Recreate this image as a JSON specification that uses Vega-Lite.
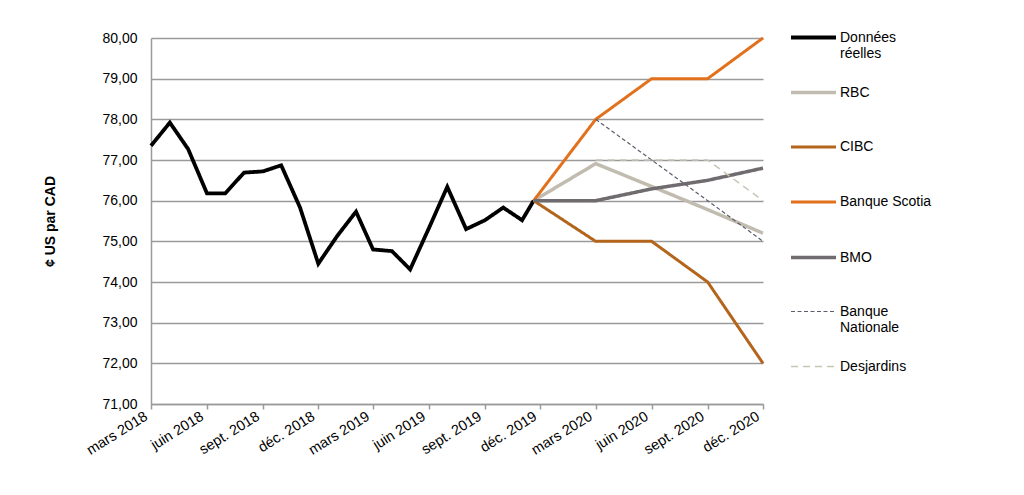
{
  "$schema": "https://vega.github.io/schema/vega-lite/v6.json",
  "width": 612,
  "height": 366,
  "autosize": {"type": "none"},
  "padding": {"left": 151, "top": 38, "right": 261, "bottom": 91},
  "background": "white",
  "config": {
    "font": "Liberation Sans",
    "view": {"stroke": null},
    "locale": {
      "number": {"decimal": ",", "thousands": " ", "grouping": [3], "currency": ["", " $"]},
      "time": {
        "dateTime": "%A %e %B %Y à %X",
        "date": "%d/%m/%Y",
        "time": "%H:%M:%S",
        "periods": ["AM", "PM"],
        "days": ["dimanche", "lundi", "mardi", "mercredi", "jeudi", "vendredi", "samedi"],
        "shortDays": ["dim.", "lun.", "mar.", "mer.", "jeu.", "ven.", "sam."],
        "months": ["janvier", "février", "mars", "avril", "mai", "juin", "juillet", "août", "septembre", "octobre", "novembre", "décembre"],
        "shortMonths": ["janv.", "févr.", "mars", "avr.", "mai", "juin", "juil.", "août", "sept.", "oct.", "nov.", "déc."]
      }
    }
  },
  "data": {
    "values": [
      {"date": "2018-03-01", "series": "Données réelles", "value": 77.35},
      {"date": "2018-04-01", "series": "Données réelles", "value": 77.92},
      {"date": "2018-05-01", "series": "Données réelles", "value": 77.27},
      {"date": "2018-06-01", "series": "Données réelles", "value": 76.18},
      {"date": "2018-07-01", "series": "Données réelles", "value": 76.18},
      {"date": "2018-08-01", "series": "Données réelles", "value": 76.69},
      {"date": "2018-09-01", "series": "Données réelles", "value": 76.72},
      {"date": "2018-10-01", "series": "Données réelles", "value": 76.87},
      {"date": "2018-11-01", "series": "Données réelles", "value": 75.83},
      {"date": "2018-12-01", "series": "Données réelles", "value": 74.45},
      {"date": "2019-01-01", "series": "Données réelles", "value": 75.13},
      {"date": "2019-02-01", "series": "Données réelles", "value": 75.73},
      {"date": "2019-03-01", "series": "Données réelles", "value": 74.8},
      {"date": "2019-04-01", "series": "Données réelles", "value": 74.76},
      {"date": "2019-05-01", "series": "Données réelles", "value": 74.31},
      {"date": "2019-06-01", "series": "Données réelles", "value": 75.33},
      {"date": "2019-07-01", "series": "Données réelles", "value": 76.34},
      {"date": "2019-08-01", "series": "Données réelles", "value": 75.3},
      {"date": "2019-09-01", "series": "Données réelles", "value": 75.52},
      {"date": "2019-10-01", "series": "Données réelles", "value": 75.83},
      {"date": "2019-11-01", "series": "Données réelles", "value": 75.52},
      {"date": "2019-11-20", "series": "Données réelles", "value": 76.0},
      {"date": "2019-11-20", "series": "RBC", "value": 76.0},
      {"date": "2020-03-01", "series": "RBC", "value": 76.91},
      {"date": "2020-06-01", "series": "RBC", "value": 76.35},
      {"date": "2020-09-01", "series": "RBC", "value": 75.78},
      {"date": "2020-12-01", "series": "RBC", "value": 75.2},
      {"date": "2019-11-20", "series": "CIBC", "value": 76.0},
      {"date": "2020-03-01", "series": "CIBC", "value": 75.0},
      {"date": "2020-06-01", "series": "CIBC", "value": 75.0},
      {"date": "2020-09-01", "series": "CIBC", "value": 74.0},
      {"date": "2020-12-01", "series": "CIBC", "value": 72.0},
      {"date": "2019-11-20", "series": "Banque Scotia", "value": 76.0},
      {"date": "2020-03-01", "series": "Banque Scotia", "value": 78.0},
      {"date": "2020-06-01", "series": "Banque Scotia", "value": 79.0},
      {"date": "2020-09-01", "series": "Banque Scotia", "value": 79.0},
      {"date": "2020-12-01", "series": "Banque Scotia", "value": 80.0},
      {"date": "2019-11-20", "series": "BMO", "value": 76.0},
      {"date": "2020-03-01", "series": "BMO", "value": 76.0},
      {"date": "2020-06-01", "series": "BMO", "value": 76.29},
      {"date": "2020-09-01", "series": "BMO", "value": 76.5},
      {"date": "2020-12-01", "series": "BMO", "value": 76.8},
      {"date": "2020-03-01", "series": "Banque Nationale", "value": 78.0},
      {"date": "2020-06-01", "series": "Banque Nationale", "value": 77.0},
      {"date": "2020-09-01", "series": "Banque Nationale", "value": 76.0},
      {"date": "2020-12-01", "series": "Banque Nationale", "value": 75.0},
      {"date": "2020-03-01", "series": "Desjardins", "value": 77.0},
      {"date": "2020-06-01", "series": "Desjardins", "value": 77.0},
      {"date": "2020-09-01", "series": "Desjardins", "value": 77.0},
      {"date": "2020-12-01", "series": "Desjardins", "value": 76.0}
    ]
  },
  "mark": {"type": "line", "strokeCap": "butt", "strokeJoin": "miter"},
  "encoding": {
    "x": {
      "field": "date",
      "type": "temporal",
      "scale": {
        "type": "utc",
        "domain": [
          {"year": 2018, "month": 3, "date": 1, "utc": true},
          {"year": 2020, "month": 12, "date": 1, "utc": true}
        ]
      },
      "axis": {
        "values": [
          {"year": 2018, "month": 3, "date": 1, "utc": true},
          {"year": 2018, "month": 6, "date": 1, "utc": true},
          {"year": 2018, "month": 9, "date": 1, "utc": true},
          {"year": 2018, "month": 12, "date": 1, "utc": true},
          {"year": 2019, "month": 3, "date": 1, "utc": true},
          {"year": 2019, "month": 6, "date": 1, "utc": true},
          {"year": 2019, "month": 9, "date": 1, "utc": true},
          {"year": 2019, "month": 12, "date": 1, "utc": true},
          {"year": 2020, "month": 3, "date": 1, "utc": true},
          {"year": 2020, "month": 6, "date": 1, "utc": true},
          {"year": 2020, "month": 9, "date": 1, "utc": true},
          {"year": 2020, "month": 12, "date": 1, "utc": true}
        ],
        "format": "%b %Y",
        "title": null,
        "grid": false,
        "labelAngle": -32,
        "labelAlign": "right",
        "labelBaseline": "middle",
        "labelPadding": 6,
        "labelOffset": -5,
        "labelFontSize": 14.5,
        "labelColor": "#000000",
        "labelOverlap": false,
        "labelFlush": false,
        "domainColor": "#9a9a9a",
        "domainWidth": 1.5,
        "tickColor": "#9a9a9a",
        "tickWidth": 1.5,
        "tickSize": 5
      }
    },
    "y": {
      "field": "value",
      "type": "quantitative",
      "scale": {"domain": [71, 80], "nice": false, "zero": false},
      "axis": {
        "values": [71, 72, 73, 74, 75, 76, 77, 78, 79, 80],
        "format": ".2f",
        "grid": true,
        "gridColor": "#9a9a9a",
        "gridWidth": 1.4,
        "domainColor": "#9a9a9a",
        "domainWidth": 1.5,
        "ticks": false,
        "labelPadding": 14,
        "labelFontSize": 14,
        "labelColor": "#000000",
        "title": "¢ US par CAD",
        "titleFontSize": 14,
        "titleFontWeight": "bold",
        "titleColor": "#000000",
        "titlePadding": 44
      }
    },
    "color": {
      "field": "series",
      "type": "nominal",
      "scale": {
        "domain": ["Données réelles", "RBC", "CIBC", "Banque Scotia", "BMO", "Banque Nationale", "Desjardins"],
        "range": ["#000000", "#c2bcb0", "#b3651c", "#e2711d", "#6f6b6e", "#5a5e6b", "#c8c5b5"]
      },
      "legend": {
        "title": null,
        "orient": "none",
        "legendX": 638,
        "legendY": -25,
        "symbolType": "stroke",
        "symbolSize": 2025,
        "labelFontSize": 14,
        "labelColor": "#000000",
        "labelOffset": 2,
        "labelLimit": 200,
        "gridAlign": "all",
        "rowPadding": 7,
        "labelExpr": "datum.label == 'Données réelles' ? ['Données', 'réelles'] : datum.label == 'Banque Nationale' ? ['Banque', 'Nationale'] : datum.label"
      }
    },
    "strokeWidth": {
      "field": "series",
      "type": "nominal",
      "scale": {
        "type": "ordinal",
        "domain": ["Données réelles", "RBC", "CIBC", "Banque Scotia", "BMO", "Banque Nationale", "Desjardins"],
        "range": [3.8, 3.5, 3, 3, 3.5, 1.2, 1.5]
      }
    },
    "strokeDash": {
      "field": "series",
      "type": "nominal",
      "scale": {
        "domain": ["Données réelles", "RBC", "CIBC", "Banque Scotia", "BMO", "Banque Nationale", "Desjardins"],
        "range": [[1, 0], [1, 0], [1, 0], [1, 0], [1, 0], [4, 2.5], [7, 5]]
      }
    }
  }
}
